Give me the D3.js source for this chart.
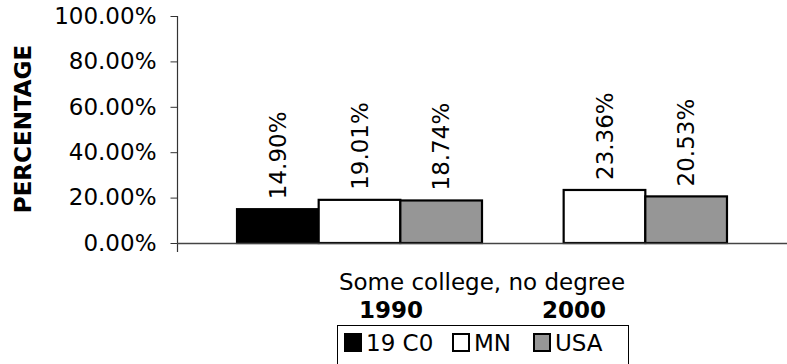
<!DOCTYPE html>
<html>
<head>
<meta charset="utf-8">
<script src="https://cdn.jsdelivr.net/npm/d3@7"></script>
<style>
  html, body { margin: 0; padding: 0; background: #fff; }
  svg { display: block; }
  text { font-family: "DejaVu Sans", Verdana, sans-serif; fill: #000; }
</style>
</head>
<body>
<svg id="chart" width="787" height="364"></svg>
<script>
// ---- data ----
const category = "Some college, no degree";
const seriesKeys = ["1990 19 C0", "1990 MN", "1990 USA", "2000 19 C0", "2000 MN", "2000 USA"];
const seriesGroup = ["19 C0", "MN", "USA", "19 C0", "MN", "USA"];
const values = [0.1490, 0.1901, 0.1874, null, 0.2336, 0.2053];
const yearLabels = ["1990", "2000"];
const legendLabels = ["19 C0", "MN", "USA"];
const yTicks = [0, 0.2, 0.4, 0.6, 0.8, 1.0];
const yTitle = "PERCENTAGE";

const colors = { "19 C0": "#000000", "MN": "#ffffff", "USA": "#969696" };

const svg = d3.select("#chart");
const pLeft = 177, pRight = 787, pTop = 16, pBottom = 243;

const y = d3.scaleLinear().domain([0, 1]).range([pBottom, pTop]);
const x = d3.scaleBand().domain(seriesKeys).range([pLeft, pRight])
  .paddingInner(0).paddingOuter(0.735);
const xc = d3.scaleBand().domain([category]).range([pLeft, pRight]);

// y axis
const yAxis = d3.axisLeft(y).tickValues(yTicks).tickFormat(d3.format(".2%"))
  .tickSize(7).tickPadding(14);
const gy = svg.append("g").attr("transform", `translate(${pLeft + 0.5},0)`).call(yAxis);
gy.select(".domain").remove();
gy.selectAll(".tick line").attr("stroke", "#333").attr("stroke-width", 1);
gy.selectAll(".tick text").style("font-size", "23px").style("font-family", "DejaVu Sans");
gy.append("line").attr("x1", 0).attr("x2", 0).attr("y1", pTop).attr("y2", pBottom + 9)
  .attr("stroke", "#333").attr("stroke-width", 1.2);

// bars
const data = seriesKeys.map((k, i) => ({ key: k, group: seriesGroup[i], v: values[i] }))
  .filter(d => d.v != null);
svg.append("g").selectAll("rect").data(data).join("rect")
  .attr("x", d => x(d.key))
  .attr("y", d => y(d.v))
  .attr("width", x.bandwidth())
  .attr("height", d => pBottom - y(d.v))
  .attr("fill", d => colors[d.group])
  .attr("stroke", "#000").attr("stroke-width", 2.2);

// x axis line
svg.append("line").attr("x1", pLeft).attr("x2", pRight).attr("y1", pBottom + 0.5).attr("y2", pBottom + 0.5)
  .attr("stroke", "#444").attr("stroke-width", 1.3);

// data labels
const pct = d3.format(".2%");
svg.append("g").selectAll("text").data(data).join("text")
  .attr("transform", d => `translate(${x(d.key) + x.bandwidth() / 2},${y(d.v) - 10}) rotate(-90)`)
  .attr("dy", "0.36em")
  .style("font-size", "23px")
  .text(d => pct(d.v));

// y title
svg.append("text")
  .attr("transform", "translate(31,129) rotate(-90)")
  .attr("text-anchor", "middle")
  .style("font-size", "23px").style("font-weight", "bold")
  .text(yTitle);

// category label
svg.append("text")
  .attr("x", xc(category) + xc.bandwidth() / 2).attr("y", 290)
  .attr("text-anchor", "middle").style("font-size", "23px")
  .text(category);

// year labels
const yearX = [391, 574];
svg.append("g").selectAll("text").data(yearLabels).join("text")
  .attr("x", (d, i) => yearX[i]).attr("y", 318)
  .attr("text-anchor", "middle")
  .style("font-size", "23px").style("font-weight", "bold")
  .text(d => d);

// legend
const lg = svg.append("g");
lg.append("rect").attr("x", 337.5).attr("y", 325.5).attr("width", 291).attr("height", 50)
  .attr("fill", "#fff").attr("stroke", "#000").attr("stroke-width", 1);
const legendX = [345, 453, 534];
legendLabels.forEach((lab, i) => {
  lg.append("rect").attr("x", legendX[i]).attr("y", 334).attr("width", 16).attr("height", 17)
    .attr("fill", colors[lab]).attr("stroke", "#000").attr("stroke-width", 2);
  lg.append("text").attr("x", legendX[i] + 21).attr("y", 351)
    .style("font-size", "23px").text(lab);
});
</script>
</body>
</html>
